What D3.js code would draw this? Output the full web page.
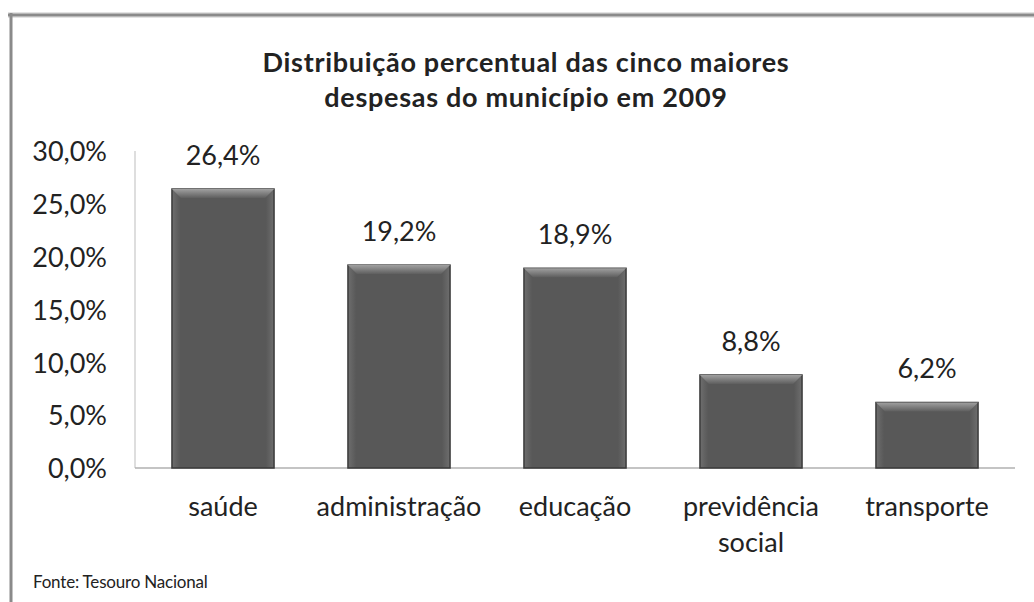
<!DOCTYPE html>
<html>
<head>
<meta charset="utf-8">
<script src="https://cdn.jsdelivr.net/npm/d3@7"></script>
<style>
  body { margin:0; background:#fff; }
  text { font-family: Lato, "Open Sans", sans-serif; fill:#222; }
</style>
</head>
<body>
<div class="chart"></div>
<script>
// data
var categorias = [["saúde"], ["administração"], ["educação"], ["previdência", "social"], ["transporte"]];
var valores = [26.4, 19.2, 18.9, 8.8, 6.2];
var ticks = [0, 5, 10, 15, 20, 25, 30];
var titulo = ["Distribuição percentual das cinco maiores", "despesas do município em 2009"];
var fonte = "Fonte: Tesouro Nacional";

var width = 1034, height = 602;
var fmt = function(v){ return v.toFixed(1).replace('.', ',') + '%'; };

var svg = d3.select('.chart').append('svg')
  .attr('width', width).attr('height', height);

var defs = svg.append('defs');
var g1 = defs.append('linearGradient').attr('id','bevTop').attr('x1',0).attr('y1',0).attr('x2',0).attr('y2',1);
g1.append('stop').attr('offset','0%').attr('stop-color','#a0a0a0');
g1.append('stop').attr('offset','100%').attr('stop-color','#5e5e5e');
var g2 = defs.append('linearGradient').attr('id','barFill').attr('x1',0).attr('y1',0).attr('x2',1).attr('y2',0);
g2.append('stop').attr('offset','0%').attr('stop-color','#6e6e6e');
g2.append('stop').attr('offset','8%').attr('stop-color','#585858');
g2.append('stop').attr('offset','92%').attr('stop-color','#585858');
g2.append('stop').attr('offset','100%').attr('stop-color','#6e6e6e');

// frame of the chart area
svg.append('line').attr('x1',8).attr('x2',width).attr('y1',15).attr('y2',15)
  .attr('stroke','#c8c8c8').attr('stroke-width',5);
svg.append('line').attr('x1',8).attr('x2',width).attr('y1',15).attr('y2',15)
  .attr('stroke','#8a8a8a').attr('stroke-width',2.5);
svg.append('line').attr('x1',11).attr('x2',11).attr('y1',13).attr('y2',height)
  .attr('stroke','#8a8a8a').attr('stroke-width',3);

// title
svg.append('text').attr('text-anchor','middle')
  .style('font-weight','bold').style('font-size','27px').style('letter-spacing','0.7px')
  .selectAll('tspan').data(titulo).enter().append('tspan')
  .attr('x', 526).attr('y', function(d,i){ return 72 + i*35; })
  .text(function(d){ return d; });

// scales
var x = d3.scaleBand().domain(d3.range(valores.length))
  .range([135, 1015]).paddingInner(0.42).paddingOuter(0.21);
var y = d3.scaleLinear().domain([0, 30]).range([468, 151]);

// axes
var yAxis = svg.append('g').attr('transform','translate(135,0)')
  .call(d3.axisLeft(y).tickValues(ticks).tickSize(0).tickPadding(28).tickFormat(fmt));
yAxis.select('.domain').attr('stroke','#bdbdbd').attr('d','M0,' + y(30) + 'V' + y(0));
yAxis.selectAll('text').style('font-size','27px').attr('fill','#222')
  .style('font-family','Lato, "Open Sans", sans-serif').attr('dy','0.36em');

svg.append('line').attr('x1',135).attr('x2',1015).attr('y1',y(0)).attr('y2',y(0))
  .attr('stroke','#b0b0b0').attr('stroke-width',1.5);

// bars
var bw = x.bandwidth(), bev = 9;
var bars = svg.selectAll('.bar').data(valores).enter().append('g').attr('class','bar');
bars.append('rect')
  .attr('x', function(d,i){ return x(i); })
  .attr('y', function(d){ return y(d); })
  .attr('width', bw)
  .attr('height', function(d){ return y(0) - y(d); })
  .attr('fill','url(#barFill)')
  .attr('stroke','#3a3a3a').attr('stroke-width',1.5);
bars.append('path')
  .attr('d', function(d,i){
    var x0 = x(i), t = y(d);
    return 'M' + x0 + ',' + t + 'H' + (x0+bw) + 'L' + (x0+bw-bev) + ',' + (t+bev) + 'H' + (x0+bev) + 'Z';
  })
  .attr('fill','url(#bevTop)');

// value labels
bars.append('text')
  .attr('x', function(d,i){ return x(i) + bw/2; })
  .attr('y', function(d){ return y(d) - 24; })
  .attr('text-anchor','middle').style('font-size','27px')
  .text(fmt);

// category labels
svg.selectAll('.cat').data(categorias).enter().append('text')
  .attr('class','cat').attr('text-anchor','middle').style('font-size','27px')
  .selectAll('tspan').data(function(d,i){ return d.map(function(s){ return {s:s, i:i}; }); })
  .enter().append('tspan')
  .attr('x', function(d){ return x(d.i) + bw/2; })
  .attr('y', function(d,k){ return 516 + k*36; })
  .text(function(d){ return d.s; });

// source
svg.append('text').attr('x',33).attr('y',588).style('font-size','17px')
  .style('letter-spacing','-0.2px').text(fonte);
</script>
</body>
</html>
